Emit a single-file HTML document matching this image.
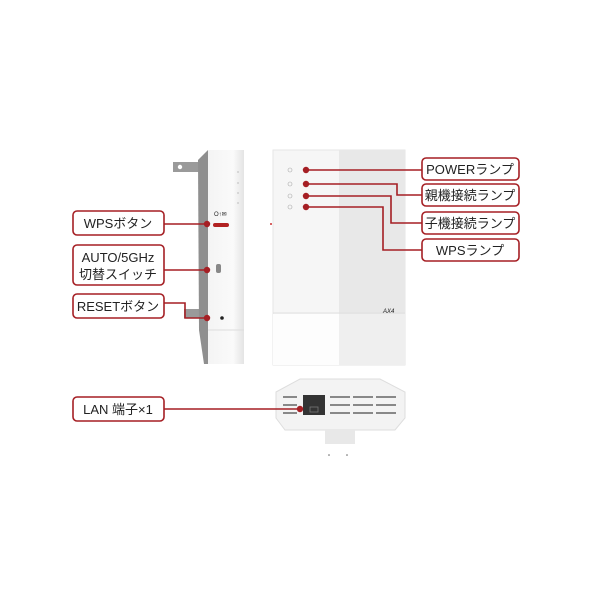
<!DOCTYPE html>
<html><head><meta charset="utf-8"><style>
html,body{margin:0;padding:0;background:#fff;width:600px;height:600px;overflow:hidden}
svg text{font-family:"Liberation Sans","Noto Sans CJK JP",sans-serif;fill:#222}
</style></head><body>
<svg width="600" height="600" viewBox="0 0 600 600" xmlns="http://www.w3.org/2000/svg">
<defs>
<linearGradient id="sd" x1="0" x2="1"><stop offset="0" stop-color="#f4f4f4"/><stop offset="0.7" stop-color="#fafafa"/><stop offset="1" stop-color="#e4e4e4"/></linearGradient>
</defs>
<!-- side device -->
<rect x="173" y="162" width="28" height="10" fill="#9a9a9a"/>
<circle cx="180" cy="167" r="2.2" fill="#fff"/>
<rect x="184" y="309" width="18" height="9" fill="#9a9a9a"/>
<polygon points="198,160 208,150 208,364 204,364 199,330" fill="#8f8f8f"/>
<rect x="208" y="150" width="36" height="214" fill="url(#sd)"/>
<line x1="208" y1="330" x2="244" y2="330" stroke="#ddd"/>
<rect x="213" y="223" width="16" height="4" rx="2" fill="#b22222"/>
<text x="214" y="216" font-size="6" fill="#999">O↑✉</text>
<rect x="216" y="264" width="5" height="9" rx="2" fill="#888"/>
<circle cx="222" cy="318" r="1.8" fill="#222"/>
<circle cx="238" cy="172" r="0.6" fill="#999"/><circle cx="238" cy="183" r="0.6" fill="#999"/><circle cx="238" cy="193" r="0.6" fill="#999"/><circle cx="238" cy="203" r="0.6" fill="#999"/>
<!-- front device -->
<rect x="273" y="150" width="132" height="215" fill="#f6f6f6" stroke="#e6e6e6"/>
<rect x="339" y="150" width="66" height="215" fill="#e8e8e8"/>
<line x1="273" y1="313" x2="405" y2="313" stroke="#e0e0e0"/>
<rect x="273" y="314" width="66" height="51" fill="#fdfdfd"/>
<rect x="339" y="314" width="66" height="51" fill="#efefef"/>
<text x="383" y="313" font-size="6" fill="#888" font-style="italic">AX4</text>
<circle cx="290" cy="170" r="2" fill="none" stroke="#aaa" stroke-width="0.6"/>
<circle cx="290" cy="184" r="2" fill="none" stroke="#aaa" stroke-width="0.6"/>
<circle cx="290" cy="196" r="2" fill="none" stroke="#aaa" stroke-width="0.6"/>
<circle cx="290" cy="207" r="2" fill="none" stroke="#aaa" stroke-width="0.6"/>
<circle cx="271" cy="224" r="1" fill="#c33"/>
<!-- bottom device -->
<polygon points="276,392 300,379 380,379 405,392 405,418 395,430 285,430 276,418" fill="#f3f3f3" stroke="#ddd"/>
<rect x="325" y="430" width="30" height="14" fill="#e8e8e8"/>
<g fill="#888">
<rect x="283" y="396" width="14" height="2"/><rect x="283" y="404" width="14" height="2"/><rect x="283" y="412" width="14" height="2"/>
<rect x="330" y="396" width="20" height="2"/><rect x="330" y="404" width="20" height="2"/><rect x="330" y="412" width="20" height="2"/>
<rect x="353" y="396" width="20" height="2"/><rect x="353" y="404" width="20" height="2"/><rect x="353" y="412" width="20" height="2"/>
<rect x="376" y="396" width="20" height="2"/><rect x="376" y="404" width="20" height="2"/><rect x="376" y="412" width="20" height="2"/>
</g>
<rect x="303" y="395" width="22" height="20" fill="#333"/>
<rect x="310" y="407" width="8" height="5" fill="none" stroke="#777" stroke-width="0.8"/>
<circle cx="329" cy="455" r="0.8" fill="#666"/><circle cx="347" cy="455" r="0.8" fill="#666"/>
<!-- connectors -->
<g stroke="#a51f24" stroke-width="1.6" fill="none">
<line x1="164" y1="224" x2="207" y2="224"/>
<line x1="164" y1="270" x2="207" y2="270"/>
<polyline points="164,303 185,303 185,318 207,318"/>
<line x1="306" y1="170" x2="422" y2="170"/>
<polyline points="306,184 397,184 397,195 422,195"/>
<polyline points="306,196 391,196 391,223 422,223"/>
<polyline points="306,207 383,207 383,250 422,250"/>
<line x1="164" y1="409" x2="300" y2="409"/>
</g>
<g fill="#a51f24">
<circle cx="207" cy="224" r="3.2"/><circle cx="207" cy="270" r="3.2"/><circle cx="207" cy="318" r="3.2"/>
<circle cx="306" cy="170" r="3.2"/><circle cx="306" cy="184" r="3.2"/><circle cx="306" cy="196" r="3.2"/><circle cx="306" cy="207" r="3.2"/>
<circle cx="300" cy="409" r="3.2"/>
</g>
<!-- label boxes -->
<g fill="#fff" stroke="#a51f24" stroke-width="1.6">
<rect x="73" y="211" width="91" height="24" rx="4"/>
<rect x="73" y="245" width="91" height="40" rx="4"/>
<rect x="73" y="294" width="91" height="24" rx="4"/>
<rect x="422" y="158" width="97" height="22" rx="4"/>
<rect x="422" y="184" width="97" height="22" rx="4"/>
<rect x="422" y="212" width="97" height="22" rx="4"/>
<rect x="422" y="239" width="97" height="22" rx="4"/>
<rect x="73" y="397" width="91" height="24" rx="4"/>
</g>
<g font-size="13" text-anchor="middle">
<text x="118" y="228">WPSボタン</text>
<text x="118" y="262">AUTO/5GHz</text>
<text x="118" y="279">切替スイッチ</text>
<text x="118" y="311">RESETボタン</text>
<text x="470" y="174">POWERランプ</text>
<text x="470" y="200">親機接続ランプ</text>
<text x="470" y="228">子機接続ランプ</text>
<text x="470" y="255">WPSランプ</text>
<text x="118" y="414">LAN 端子×1</text>
</g>
</svg>
</body></html>
